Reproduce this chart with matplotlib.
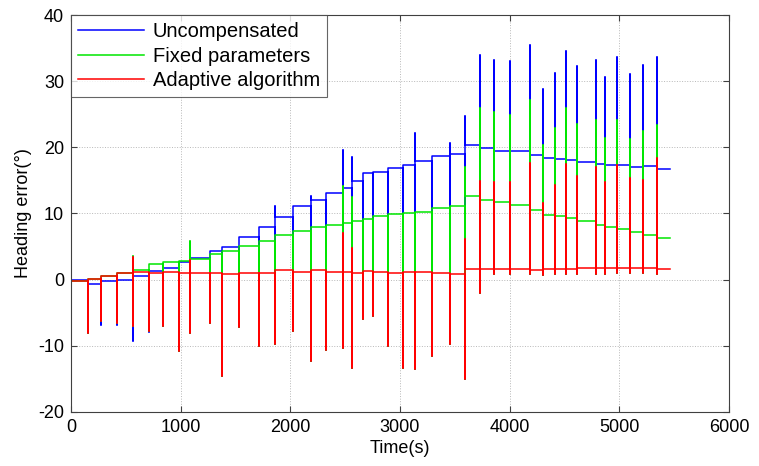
import numpy as np
import matplotlib
matplotlib.use("Agg")
import matplotlib.pyplot as plt

# ---- data ----
spike_t = [158, 274, 417, 563, 714, 836, 988, 1085, 1268, 1374, 1534, 1714, 1860, 2027,
           2192, 2326, 2478, 2563, 2666, 2757, 2888, 3025, 3137, 3293, 3452, 3595, 3728,
           3853, 4002, 4186, 4307, 4412, 4516, 4617, 4783, 4869, 4977, 5097, 5214, 5342]
t_end = 5460

# level of each series between spikes (41 segments)
blue_level = [-0.1, -0.6, -0.25, 0.0, 0.5, 1.25, 1.8, 2.6, 3.2, 4.3, 5.0, 6.4, 7.9, 9.5,
              11.1, 12.1, 13.1, 13.9, 14.9, 16.1, 16.2, 16.9, 17.4, 17.9, 18.7, 19.0, 20.4,
              19.9, 19.5, 19.4, 18.9, 18.4, 18.2, 18.1, 17.8, 17.5, 17.4, 17.4, 17.1, 17.2, 16.7]
green_level = [-0.15, 0.1, 0.5, 1.0, 1.5, 2.3, 2.6, 2.8, 3.1, 3.9, 4.4, 5.1, 5.9, 6.8,
               7.3, 7.9, 8.2, 8.6, 8.8, 9.2, 9.6, 9.9, 10.0, 10.2, 10.8, 11.2, 12.6,
               12.1, 11.7, 11.3, 10.6, 9.8, 9.6, 9.3, 8.8, 8.2, 8.0, 7.7, 7.15, 6.8, 6.3]
red_level = [-0.15, 0.1, 0.5, 1.0, 1.2, 1.0, 1.1, 1.0, 1.0, 1.0, 0.9, 1.0, 1.0, 1.4,
             1.2, 1.4, 1.2, 1.1, 1.0, 1.3, 1.2, 1.0, 1.1, 1.1, 1.0, 0.8, 1.6,
             1.6, 1.6, 1.6, 1.4, 1.55, 1.55, 1.55, 1.7, 1.75, 1.8, 1.8, 1.8, 1.8, 1.65]

# downward extreme of each spike
red_lo = [-8.0, -6.3, -6.5, -7.0, -7.7, -7.0, -10.8, -8.1, -6.6, -14.6, -7.2, -10.0, -9.7, -7.7,
          -12.3, -10.6, -10.4, -13.4, -6.0, -5.5, -10.0, -13.3, -13.5, -11.5, -9.7, -15.0, -2.0,
          0.8, 0.8, 0.8, 0.7, 0.8, 0.8, 0.8, 0.9, 0.9, 1.0, 1.0, 1.0, 0.8]
blue_lo = [-8.0, -6.8, -6.8, -9.2, -7.9, -7.0, -10.8, -8.1, -6.6, -14.6, -7.2, -10.0, -9.7, -7.7,
           -12.3, -10.6, -10.4, -13.4, -6.0, -5.5, -10.0, -13.3, -13.5, -11.5, -9.7, -15.0, -2.0,
           0.8, 0.8, 0.8, 0.7, 0.8, 0.8, 0.8, 0.9, 0.9, 1.0, 1.0, 1.0, 0.8]

# upward extreme of each spike (nan = no overshoot above the step)
nan = np.nan
blue_hi = [nan, nan, nan, nan, nan, nan, nan, nan, nan, nan, nan, nan, 11.2, nan,
           12.7, nan, 19.6, 18.5, nan, nan, nan, nan, 22.2, nan, 20.7, 24.7, 33.9,
           33.2, 33.0, 35.5, 28.8, 31.3, 34.5, 32.3, 33.2, 30.7, 33.7, 31.1, 32.5, 33.6]
green_hi = [nan, nan, nan, 3.6, nan, nan, nan, 5.9, nan, nan, nan, nan, nan, nan,
            nan, nan, 14.1, 12.5, nan, nan, nan, nan, nan, nan, nan, 17.1, 25.9,
            25.3, 24.9, 27.2, 20.4, 22.9, 25.9, 23.5, 24.2, 21.4, 24.2, 21.3, 22.4, 23.3]
red_hi = [nan, nan, nan, 3.4, nan, nan, nan, 3.0, nan, nan, nan, nan, nan, nan,
          nan, nan, 7.0, 4.8, nan, nan, nan, nan, nan, nan, nan, 6.1, 14.9,
          14.8, 14.8, 17.6, 11.6, 14.3, 17.5, 15.7, 17.1, 14.7, 17.3, 15.3, 15.1, 18.4]


def build(levels, lo, hi):
    xs, ys = [0], [levels[0]]
    for j, t in enumerate(spike_t):
        top = hi[j] if not np.isnan(hi[j]) else max(levels[j], levels[j + 1])
        xs += [t, t, t, t]
        ys += [levels[j], lo[j], top, levels[j + 1]]
    xs.append(t_end)
    ys.append(levels[-1])
    return xs, ys


plt.rcParams['font.family'] = ['Liberation Sans', 'DejaVu Sans']
plt.rcParams['axes.unicode_minus'] = False

fig = plt.figure(figsize=(7.59, 4.66), dpi=100)
ax = fig.add_axes([0.0935, 0.1159, 0.867, 0.8519])

bx, by = build(blue_level, blue_lo, blue_hi)
gx, gy = build(green_level, red_lo, green_hi)
rx, ry = build(red_level, red_lo, red_hi)

ax.plot(bx, by, color='#0000ff', lw=1.1, label='Uncompensated')
ax.plot(gx, gy, color='#00e600', lw=1.1, label='Fixed parameters')
ax.plot(rx, ry, color='#ff0000', lw=1.1, label='Adaptive algorithm')

ax.set_xlim(0, 6000)
ax.set_ylim(-20, 40)
ax.set_xticks(np.arange(0, 6001, 1000))
ax.set_yticks(np.arange(-20, 41, 10))
ax.grid(True, linestyle=':', color='#b8b8b8', linewidth=0.7)
ax.tick_params(direction='in', top=True, right=True, labelsize=13, length=4,
               color='#404040', pad=5)
for s in ax.spines.values():
    s.set_color('#404040')
    s.set_linewidth(0.8)

ax.set_xlabel('Time(s)', fontsize=13, labelpad=3)
ax.set_ylabel('Heading error(°)', fontsize=13, labelpad=4)

leg = ax.legend(loc='upper left', fontsize=14.5, frameon=True, fancybox=False,
                edgecolor='#404040', borderaxespad=0, handlelength=3.3,
                labelspacing=0.28, borderpad=0.35, handletextpad=0.4)
leg.get_frame().set_linewidth(0.8)

fig.savefig('out.png', dpi=100)
